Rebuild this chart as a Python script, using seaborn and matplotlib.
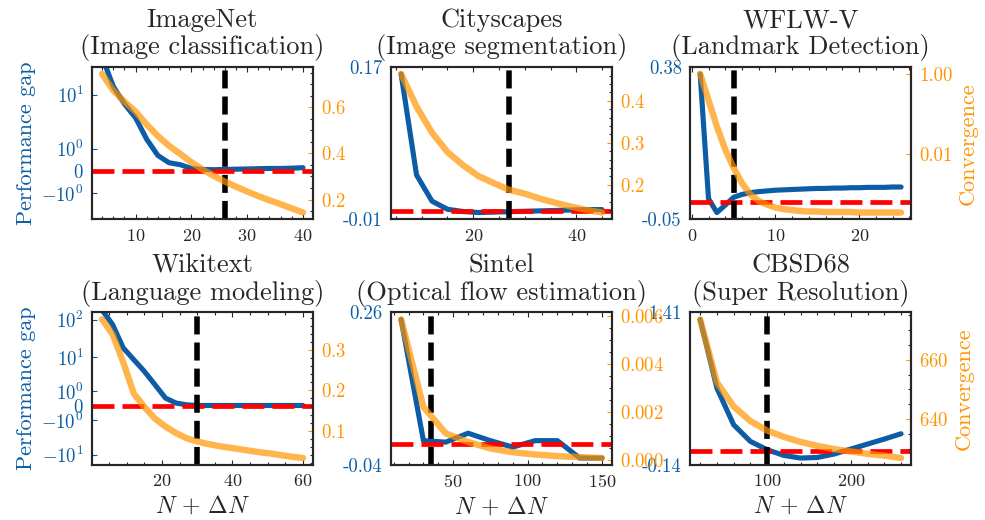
import matplotlib

matplotlib.use("Agg")

import matplotlib.pyplot as plt
import seaborn as sns
from matplotlib.ticker import AutoMinorLocator, FormatStrFormatter, NullLocator

BLUE = "#0C5DA5"
ORANGE = "#FF9500"

# ImageNet (Image classification)
imagenet_n = list(range(4, 41, 2))
imagenet_gap = [45, 14, 7, 4.0, 1.6, 0.65, 0.33, 0.25, 0.1, 0.06, 0.05,
                0.06, 0.07, 0.08, 0.09, 0.1, 0.1, 0.11, 0.13]
imagenet_conv = [0.744, 0.673, 0.624, 0.581, 0.525, 0.475, 0.433, 0.398, 0.362,
                 0.33, 0.303, 0.278, 0.256, 0.235, 0.215, 0.197, 0.18, 0.162, 0.144]
imagenet_stop = 26

# Cityscapes (Image segmentation)
cityscapes_n = list(range(6, 46, 3))
cityscapes_gap = [0.163, 0.043, 0.012, 0.0024, -0.0003, -0.0015, -0.001,
                  -0.0005, 0.0, 0.0005, 0.001, 0.0015, 0.002, 0.002]
cityscapes_conv = [0.464, 0.386, 0.324, 0.278, 0.247, 0.221, 0.204, 0.188,
                   0.179, 0.167, 0.157, 0.148, 0.14, 0.134]
cityscapes_stop = 27

# WFLW-V (Landmark Detection)
wflw_n = list(range(1, 26))
wflw_gap = [0.36, 0.008, -0.031, -0.01, 0.012, 0.02, 0.025, 0.028, 0.03, 0.032,
            0.033, 0.034, 0.035, 0.036, 0.037, 0.037, 0.038, 0.038, 0.039, 0.039,
            0.04, 0.04, 0.04, 0.041, 0.041]
wflw_conv = [1.0, 0.22, 0.048, 0.0126, 0.0044, 0.0018, 0.00094, 0.00064, 0.00052,
             0.00044, 0.0004, 0.00038, 0.00036, 0.00035, 0.00035, 0.00034, 0.00034,
             0.00034, 0.00034, 0.00033, 0.00033, 0.00033, 0.00033, 0.00033, 0.00033]
wflw_stop = 5

# Wikitext (Language modeling)
wikitext_n = list(range(3, 61, 3))
wikitext_gap = [180, 74, 17.6, 8.5, 4.1, 1.7, 0.49, 0.17, 0.06, 0.02, 0.02, 0.02,
                0.02, 0.02, 0.02, 0.02, 0.02, 0.02, 0.02, 0.02]
wikitext_conv = [0.376, 0.339, 0.27, 0.192, 0.159, 0.13, 0.11, 0.094, 0.081, 0.073,
                 0.067, 0.062, 0.058, 0.054, 0.05, 0.046, 0.043, 0.039, 0.035, 0.032]
wikitext_stop = 30

# Sintel (Optical flow estimation)
sintel_n = list(range(15, 151, 15))
sintel_gap = [0.25, 0.006, 0.003, 0.021, 0.006, -0.007, 0.006, 0.006, -0.029, -0.029]
sintel_conv = [0.00585, 0.0022, 0.0011, 0.00074, 0.00047, 0.00031, 0.00022,
               0.00015, 0.00011, 0.00007]
sintel_stop = 35

# CBSD68 (Super Resolution)
cbsd_n = list(range(20, 261, 20))
cbsd_gap = [1.343, 0.642, 0.268, 0.098, 0.013, -0.045, -0.072, -0.066, -0.031,
            0.02, 0.071, 0.122, 0.176]
cbsd_conv = [673.5, 652.4, 644.3, 639.4, 636.2, 634.1, 632.4, 631.1, 630.0,
             629.2, 628.4, 627.8, 627.0]
cbsd_stop = 100

titles = [
    "ImageNet\n(Image classification)",
    "Cityscapes\n(Image segmentation)",
    "WFLW-V\n(Landmark Detection)",
    "Wikitext\n(Language modeling)",
    "Sintel\n(Optical flow estimation)",
    "CBSD68\n(Super Resolution)",
]

panels = [
    dict(n=imagenet_n, gap=imagenet_gap, conv=imagenet_conv, stop=imagenet_stop,
         asinh=True, ylim=(-3.3, 30), yticks=[-1, 0, 1, 10], log=False),
    dict(n=cityscapes_n, gap=cityscapes_gap, conv=cityscapes_conv, stop=cityscapes_stop,
         asinh=False, log=False),
    dict(n=wflw_n, gap=wflw_gap, conv=wflw_conv, stop=wflw_stop,
         asinh=False, log=True),
    dict(n=wikitext_n, gap=wikitext_gap, conv=wikitext_conv, stop=wikitext_stop,
         asinh=True, ylim=(-19, 155), yticks=[-10, -1, 0, 1, 10, 100], log=False),
    dict(n=sintel_n, gap=sintel_gap, conv=sintel_conv, stop=sintel_stop,
         asinh=False, log=False),
    dict(n=cbsd_n, gap=cbsd_gap, conv=cbsd_conv, stop=cbsd_stop,
         asinh=False, log=False),
]

sns.set_style("ticks")
plt.rcParams.update({
    "font.family": "serif",
    "font.serif": ["cmr10"],
    "mathtext.fontset": "cm",
    "axes.formatter.use_mathtext": True,
    "axes.linewidth": 1.5,
    "xtick.major.size": 3.5,
    "ytick.major.size": 3.5,
    "xtick.minor.size": 2.5,
    "ytick.minor.size": 2.5,
    "xtick.major.width": 0.8,
    "ytick.major.width": 0.8,
    "xtick.minor.width": 0.8,
    "ytick.minor.width": 0.8,
    "xtick.major.pad": 6,
    "ytick.major.pad": 6,
    "xtick.labelsize": 13,
    "ytick.labelsize": 13.5,
})

fig, axes = plt.subplots(2, 3, figsize=(9.85, 5.2), dpi=100)
fig.subplots_adjust(left=0.0934, right=0.925, bottom=0.1058, top=0.8712,
                    wspace=0.353, hspace=0.61)

for i, (ax, panel) in enumerate(zip(axes.flat, panels)):
    row, col = divmod(i, 3)

    # performance gap on the left axis, zero line and stopping point
    sns.lineplot(x=panel["n"], y=panel["gap"], ax=ax, color=BLUE, lw=3.7)
    ax.axhline(0, color="red", ls="--", lw=3.4, dashes=(4.65, 1.7))
    ax.axvline(panel["stop"], color="black", ls="--", lw=4, dashes=(3.25, 1.45))

    if panel["asinh"]:
        ax.set_yscale("asinh")
        ax.set_ylim(panel["ylim"])
        ax.set_yticks(panel["yticks"])
    else:
        lims = ax.get_ylim()
        ax.set_yticks(lims)
        ax.set_ylim(lims)
        ax.yaxis.set_major_formatter(FormatStrFormatter("%.2f"))
    ax.yaxis.set_minor_locator(NullLocator())
    ax.xaxis.set_minor_locator(AutoMinorLocator())
    ax.tick_params(axis="x", which="both", direction="in", top=True, bottom=True)
    ax.tick_params(axis="y", which="both", direction="in")
    ax.tick_params(axis="y", colors=BLUE)
    ax.set_title(titles[i], fontsize=19, pad=9, linespacing=1.1)
    ax.set_ylabel("Performance gap" if col == 0 else "", color=BLUE, fontsize=16)
    ax.set_xlabel(r"$N\,+\,\Delta N$" if row == 1 else "", fontsize=17)

    # convergence on the twin axis
    ax2 = ax.twinx()
    sns.lineplot(x=panel["n"], y=panel["conv"], ax=ax2, color=ORANGE, lw=4.6, alpha=0.7)
    if panel["log"]:
        ax2.set_yscale("log")
        ax2.set_yticks([0.01, 1])
        ax2.yaxis.set_minor_locator(NullLocator())
        ax2.yaxis.set_major_formatter(FormatStrFormatter("%.2f"))
    else:
        ax2.yaxis.set_minor_locator(AutoMinorLocator())
    ax2.tick_params(axis="y", which="both", direction="in")
    ax2.tick_params(axis="y", colors=ORANGE)
    ax2.set_ylabel("Convergence" if col == 2 else "", color=ORANGE, fontsize=16)
    ax2.set_xlabel("")

fig.savefig("out.png", dpi=100)
